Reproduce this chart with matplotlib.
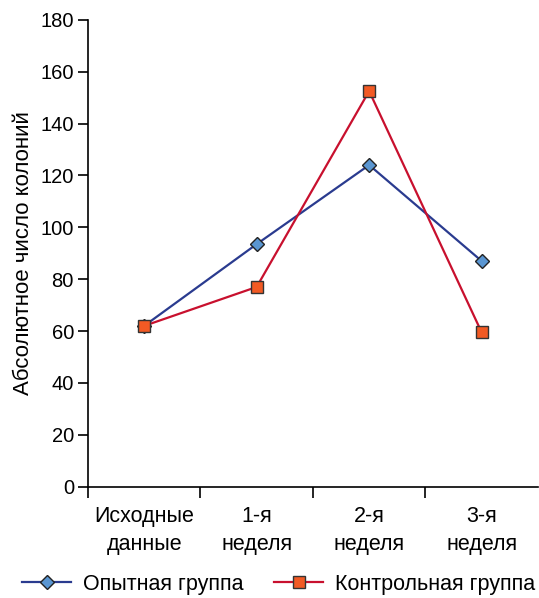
import matplotlib.pyplot as plt

plt.rcParams["font.family"] = ["Liberation Sans", "DejaVu Sans"]

# данные
categories = ["Исходные\nданные", "1-я\nнеделя", "2-я\nнеделя", "3-я\nнеделя"]
opytnaya = [62, 93.5, 124, 87]
kontrolnaya = [62, 77, 152.5, 59.5]
y_ticks = [0, 20, 40, 60, 80, 100, 120, 140, 160, 180]

fig = plt.figure(figsize=(5.39, 5.98), dpi=100)
ax = fig.add_axes([0.163, 0.186, 0.835, 0.781])

x = list(range(len(categories)))
ax.plot(x, opytnaya, color="#2a3b8f", linewidth=1.6, marker="D", markersize=7,
        markerfacecolor="#5a96d2", markeredgecolor="#222222", markeredgewidth=1.0,
        label="Опытная группа", zorder=3)
ax.plot(x, kontrolnaya, color="#c8102e", linewidth=1.6, marker="s", markersize=9,
        markerfacecolor="#f25a24", markeredgecolor="#333333", markeredgewidth=1.0,
        label="Контрольная группа", zorder=4)

ax.set_xlim(-0.5, 3.5)
ax.set_ylim(0, 180)
ax.set_yticks(y_ticks)
ax.tick_params(axis="y", labelsize=14.5, length=7, width=1.2, direction="out", pad=3)

# подписи категорий по центру, засечки между категориями
ax.set_xticks(x)
ax.set_xticklabels(categories, fontsize=15.5, linespacing=1.45)
ax.tick_params(axis="x", which="major", length=0, pad=14)
ax.set_xticks([-0.5, 0.5, 1.5, 2.5], minor=True)
ax.tick_params(axis="x", which="minor", length=8, width=1.2, direction="out")

for s in ["top", "right"]:
    ax.spines[s].set_visible(False)
ax.spines["left"].set_linewidth(1.2)
ax.spines["bottom"].set_linewidth(1.2)

ax.set_ylabel("Абсолютное число колоний", fontsize=16, labelpad=5)

handles, labels = ax.get_legend_handles_labels()
fig.legend(handles, labels, loc="lower center", bbox_to_anchor=(0.517, -0.027),
           ncol=2, frameon=False, fontsize=15.5, handlelength=2.3,
           columnspacing=1.4, handletextpad=0.55)

plt.savefig("out.png", dpi=100)
